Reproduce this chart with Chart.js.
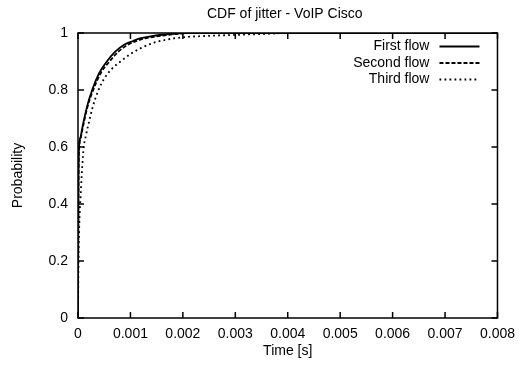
<!DOCTYPE html>
<html>
<head>
<meta charset="utf-8">
<title>CDF of jitter - VoIP Cisco</title>
<script src="https://cdn.jsdelivr.net/npm/chart.js@4/dist/chart.umd.min.js"></script>
<style>
  html, body { margin: 0; padding: 0; background: #fff; }
  #wrap { width: 523px; height: 365px; position: relative; }
</style>
</head>
<body>
<div id="wrap"><canvas id="cdf"></canvas></div>
<script>
// jitter values [s] and cumulative probability for each flow
const firstTime  = [0, 0.000005, 0.00001, 0.00002, 0.00005, 0.000082, 0.00017, 0.00027, 0.0004, 0.00055, 0.0007, 0.00088, 0.00105, 0.0012, 0.00138, 0.00156, 0.0018, 0.002, 0.008];
const firstProb  = [0, 0.30, 0.50, 0.60, 0.635, 0.667, 0.74, 0.80, 0.858, 0.90, 0.933, 0.959, 0.972, 0.982, 0.988, 0.993, 0.997, 1, 1];

const secondTime = [0, 0.000005, 0.00001, 0.000025, 0.000055, 0.00009, 0.00018, 0.00029, 0.00043, 0.0006, 0.00076, 0.00095, 0.00112, 0.0013, 0.0015, 0.0017, 0.0019, 0.0022, 0.008];
const secondProb = [0, 0.28, 0.48, 0.60, 0.635, 0.667, 0.74, 0.80, 0.858, 0.90, 0.933, 0.959, 0.972, 0.982, 0.988, 0.993, 0.997, 1, 1];

const thirdTime  = [0, 0.000005, 0.00001, 0.00002, 0.00003, 0.00005, 0.00008, 0.00011, 0.00015, 0.0002, 0.00028, 0.00038, 0.0005, 0.00065, 0.00081, 0.001, 0.0012, 0.00145, 0.0017, 0.002, 0.0025, 0.0031, 0.0036, 0.004, 0.008];
const thirdProb  = [0, 0.12, 0.20, 0.30, 0.36, 0.43, 0.53, 0.60, 0.64, 0.68, 0.74, 0.795, 0.84, 0.875, 0.90, 0.926, 0.947, 0.966, 0.977, 0.985, 0.99, 0.994, 0.997, 1, 1];

const flowNames = ['First flow', 'Second flow', 'Third flow'];
const xTicks = [0, 0.001, 0.002, 0.003, 0.004, 0.005, 0.006, 0.007, 0.008];
const yTicks = [0, 0.2, 0.4, 0.6, 0.8, 1];

const FONT = 'Liberation Sans, Arial, Helvetica, sans-serif';

const toPoints = (xs, ys) => xs.map((x, i) => ({ x: x, y: ys[i] }));

// gnuplot-like frame: border, inward mirrored ticks, title and key
const framePlugin = {
  id: 'frame',
  afterDraw(chart) {
    const { ctx, chartArea: a, scales } = chart;
    const tick = 6;
    ctx.save();
    ctx.strokeStyle = '#000';
    ctx.lineWidth = 1.5;
    ctx.strokeRect(a.left, a.top, a.right - a.left, a.bottom - a.top);

    ctx.beginPath();
    xTicks.forEach(v => {
      const px = scales.x.getPixelForValue(v);
      ctx.moveTo(px, a.bottom); ctx.lineTo(px, a.bottom - tick);
      ctx.moveTo(px, a.top);    ctx.lineTo(px, a.top + tick);
    });
    yTicks.forEach(v => {
      const py = scales.y.getPixelForValue(v);
      ctx.moveTo(a.left, py);  ctx.lineTo(a.left + tick, py);
      ctx.moveTo(a.right, py); ctx.lineTo(a.right - tick, py);
    });
    ctx.stroke();

    // title
    ctx.fillStyle = '#000';
    ctx.font = '14px ' + FONT;
    ctx.textAlign = 'center';
    ctx.textBaseline = 'middle';
    ctx.fillText('CDF of jitter - VoIP Cisco', (a.left + a.right) / 2 - 3, 14);

    // key: text on the left, line sample on the right
    const textRight = a.right - 68;
    const sampleL = a.right - 58;
    const sampleR = a.right - 18;
    chart.data.datasets.forEach((ds, i) => {
      const y = a.top + 13.5 + i * 16.5;
      ctx.textAlign = 'right';
      ctx.fillText(ds.label, textRight, y);
      ctx.beginPath();
      ctx.lineWidth = ds.borderWidth;
      ctx.setLineDash(ds.borderDash || []);
      ctx.moveTo(sampleL, y);
      ctx.lineTo(sampleR, y);
      ctx.stroke();
    });
    ctx.restore();
  }
};

const lineStyle = {
  borderColor: '#000',
  borderWidth: 1.8,
  pointRadius: 0,
  fill: false,
  cubicInterpolationMode: 'monotone'
};

new Chart(document.getElementById('cdf'), {
  type: 'line',
  data: {
    datasets: [
      Object.assign({ label: flowNames[0], data: toPoints(firstTime, firstProb) }, lineStyle),
      Object.assign({ label: flowNames[1], data: toPoints(secondTime, secondProb), borderDash: [4, 2] }, lineStyle),
      Object.assign({ label: flowNames[2], data: toPoints(thirdTime, thirdProb), borderDash: [1.8, 3.2] }, lineStyle)
    ]
  },
  options: {
    responsive: true,
    maintainAspectRatio: false,
    animation: false,
    layout: { padding: { left: 0, top: 33, right: 25, bottom: 0 } },
    plugins: {
      legend: { display: false },
      title: { display: false },
      tooltip: { enabled: false }
    },
    scales: {
      x: {
        type: 'linear',
        min: 0,
        max: 0.008,
        afterFit: s => { s.height = 47; },
        afterBuildTicks: s => { s.ticks = xTicks.map(v => ({ value: v })); },
        grid: { display: false, drawTicks: false },
        border: { display: false },
        ticks: {
          color: '#000',
          padding: 8,
          font: { family: FONT, size: 14 },
          callback: v => (v === 0 ? '0' : v.toFixed(3))
        },
        title: {
          display: true,
          text: 'Time [s]',
          color: '#000',
          font: { family: FONT, size: 14 },
          padding: { top: 0, bottom: 5 }
        }
      },
      y: {
        min: 0,
        max: 1,
        afterFit: s => { s.width = 78; },
        afterBuildTicks: s => { s.ticks = yTicks.map(v => ({ value: v })); },
        grid: { display: false, drawTicks: false },
        border: { display: false },
        ticks: {
          color: '#000',
          padding: 10,
          font: { family: FONT, size: 14 },
          callback: v => String(+v.toFixed(1))
        },
        title: {
          display: true,
          text: 'Probability',
          color: '#000',
          font: { family: FONT, size: 14 },
          padding: { top: 10, bottom: 0 }
        }
      }
    }
  },
  plugins: [framePlugin]
});
</script>
</body>
</html>
